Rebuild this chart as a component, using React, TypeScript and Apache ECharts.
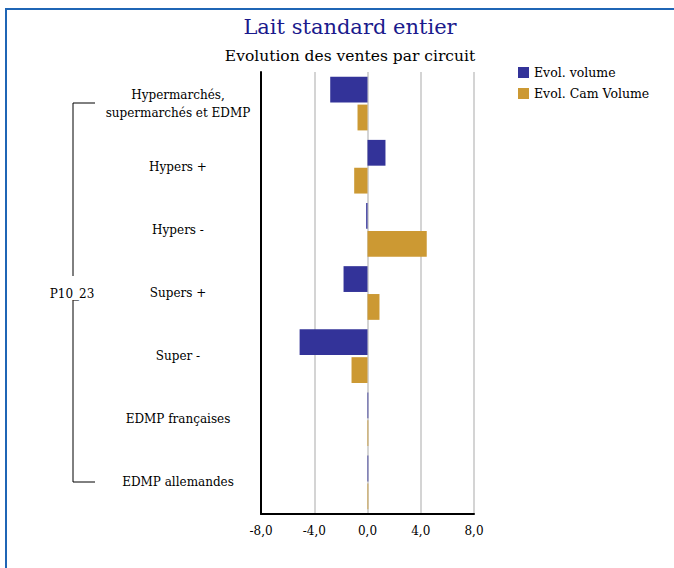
import React, { useEffect, useRef } from "react";
import * as echarts from "echarts";

const categories = [
  "Hypermarchés,\nsupermarchés et EDMP",
  "Hypers +",
  "Hypers -",
  "Supers +",
  "Super -",
  "EDMP françaises",
  "EDMP allemandes",
];
const seriesNames = ["Evol. volume", "Evol. Cam Volume"];
const evolVolume = [-2.8, 1.35, -0.1, -1.8, -5.1, 0.06, 0.06];
const evolCamVolume = [-0.75, -1.0, 4.45, 0.9, -1.2, 0.06, 0.06];
const groupLabel = "P10_23";
const titleText = "Lait standard entier";
const subtitleText = "Evolution des ventes par circuit";

const SERIF = "'DejaVu Serif', 'Liberation Serif', serif";

export default function App() {
  const ref = useRef<HTMLDivElement>(null);
  useEffect(() => {
    if (!ref.current) return;
    const chart = echarts.init(ref.current, undefined, { renderer: "svg" });
    const lineStyle = { stroke: "#000", lineWidth: 1 };
    chart.setOption({
      animation: false,
      backgroundColor: "#fff",
      textStyle: { fontFamily: SERIF },
      title: [
        {
          text: titleText,
          left: 345,
          top: 11,
          textAlign: "center",
          textStyle: { fontFamily: SERIF, fontSize: 21, fontWeight: "normal", color: "#1a1a8c" },
        },
        {
          text: subtitleText,
          left: 345,
          top: 43,
          textAlign: "center",
          textStyle: { fontFamily: SERIF, fontSize: 15.5, fontWeight: "normal", color: "#000" },
        },
      ],
      legend: {
        orient: "vertical",
        left: 513,
        top: 61,
        itemWidth: 11,
        itemHeight: 11,
        itemGap: 8,
        icon: "rect",
        data: seriesNames,
        textStyle: { fontFamily: SERIF, fontSize: 12.5, color: "#000" },
      },
      grid: { left: 261, right: 200, top: 72, bottom: 54, containLabel: false },
      xAxis: {
        type: "value",
        min: -8,
        max: 8,
        interval: 4,
        position: "bottom",
        axisLine: { show: true, onZero: false, lineStyle: { color: "#000", width: 2 } },
        axisTick: { show: false },
        splitLine: { show: true, lineStyle: { color: "#d4d4d4", width: 2 } },
        axisLabel: {
          margin: 11,
          fontFamily: SERIF,
          fontSize: 12,
          color: "#000",
          formatter: (v: number) => v.toFixed(1).replace(".", ","),
        },
      },
      yAxis: {
        type: "category",
        inverse: true,
        data: categories,
        axisLine: { show: true, onZero: false, lineStyle: { color: "#000", width: 2 } },
        axisTick: { show: false },
        splitLine: { show: false },
        axisLabel: {
          margin: 83,
          align: "center",
          fontFamily: SERIF,
          fontSize: 12,
          lineHeight: 18,
          color: "#000",
        },
      },
      series: [
        {
          name: seriesNames[0],
          type: "bar",
          data: evolVolume,
          itemStyle: { color: "#333399" },
          barCategoryGap: "15%",
          barGap: "8%",
        },
        {
          name: seriesNames[1],
          type: "bar",
          data: evolCamVolume,
          itemStyle: { color: "#cc9933" },
          barCategoryGap: "15%",
          barGap: "8%",
        },
      ],
      graphic: [
        { type: "line", shape: { x1: 6, y1: 9, x2: 674, y2: 9 }, style: { stroke: "#1f65b5", lineWidth: 2 } },
        { type: "line", shape: { x1: 6, y1: 8, x2: 6, y2: 568 }, style: { stroke: "#1f65b5", lineWidth: 2 } },
        { type: "line", shape: { x1: 73, y1: 103, x2: 95, y2: 103 }, style: lineStyle },
        { type: "line", shape: { x1: 73, y1: 103, x2: 73, y2: 276 }, style: lineStyle },
        { type: "line", shape: { x1: 73, y1: 300, x2: 73, y2: 482 }, style: lineStyle },
        { type: "line", shape: { x1: 73, y1: 482, x2: 95, y2: 482 }, style: lineStyle },
        {
          type: "text",
          x: 72,
          y: 294,
          style: {
            text: groupLabel,
            fill: "#000",
            font: `12px ${SERIF}`,
            textAlign: "center",
            textVerticalAlign: "middle",
          },
        },
      ],
    });
    return () => chart.dispose();
  }, []);
  return (
    <div
      ref={ref}
      style={{ position: "absolute", left: 0, top: 0, width: 674, height: 568 }}
    />
  );
}
